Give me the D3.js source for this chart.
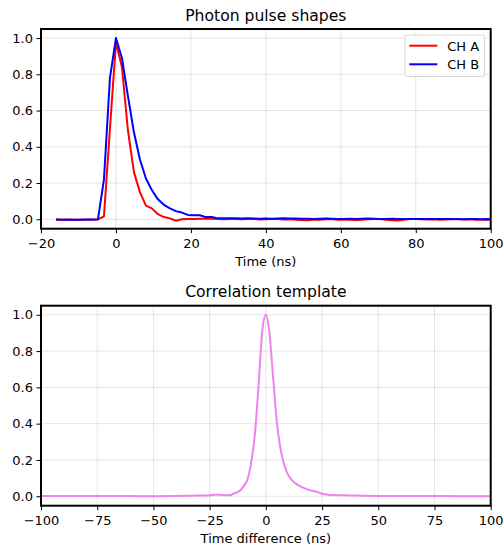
<!DOCTYPE html>
<html>
<head>
<meta charset="utf-8">
<script src="https://cdn.jsdelivr.net/npm/d3@7"></script>
<style>
  body { margin: 0; background: #fff; }
  svg { display: block; font-family: 'DejaVu Sans', sans-serif; }
  .grid line { stroke: #000; stroke-opacity: 0.1; stroke-width: 1; }
  .axis path { stroke: #000; stroke-width: 2; }
  .axis line { stroke: #000; stroke-width: 1; }
  .axis text { font-size: 13px; fill: #000; font-family: 'DejaVu Sans', sans-serif; }
</style>
</head>
<body>
<div id="chart"></div>
<script>
// pulse samples: start time and step (ns)
const pulseStart = -16;
const pulseStep = 1.6;

const chA = [
  0.000, -0.002, -0.001, -0.003, -0.002, -0.003, -0.002, -0.001, 0.016, 0.50,
  0.975, 0.84, 0.49, 0.26, 0.15, 0.075, 0.060, 0.028, 0.012, 0.005,
  -0.008, 0.000, 0.001, 0.002, 0.003, 0.004, 0.003, 0.001, 0.000, 0.002,
  0.001, 0.000, 0.002, 0.001, -0.001, 0.000, 0.002, 0.001, -0.001, 0.000,
  -0.003, -0.004, -0.005, -0.003, -0.002, 0.000, 0.001, -0.002, -0.003, -0.002,
  -0.004, -0.002, 0.000, 0.002, 0.001, -0.002, -0.005, -0.007, -0.003, 0.001,
  0.002, 0.000, -0.001, 0.000, -0.002, -0.001, 0.000, 0.001, -0.001, 0.000,
  -0.002, -0.003, -0.002, -0.001
];

const chB = [
  -0.002, -0.003, -0.003, -0.002, -0.002, -0.001, -0.001, 0.000, 0.22, 0.78,
  1.0, 0.89, 0.68, 0.48, 0.33, 0.225, 0.16, 0.11, 0.08, 0.06,
  0.045, 0.037, 0.024, 0.022, 0.022, 0.012, 0.012, 0.005, 0.005, 0.006,
  0.005, 0.004, 0.005, 0.004, 0.003, 0.004, 0.003, 0.004, 0.005, 0.004,
  0.004, 0.003, 0.003, 0.002, 0.003, 0.004, 0.003, 0.002, 0.002, 0.003,
  0.002, 0.003, 0.004, 0.003, 0.002, 0.002, 0.003, 0.002, 0.001, 0.002,
  0.002, 0.001, 0.002, 0.001, 0.002, 0.001, 0.002, 0.001, 0.000, 0.001,
  0.001, 0.000, 0.001, 0.000
];

const corrTimes = [
  -100, -90, -80, -70, -60, -50, -40, -30, -25, -22.4, -20.8, -19.2, -17.6, -16,
  -14.4, -12.8, -11.2, -9.6, -8.0, -6.4, -4.8, -3.2, -1.6, 0,
  1.6, 3.2, 4.8, 6.4, 8.0, 9.6, 11.2, 12.8, 14.4, 16, 17.6, 19.2, 20.8, 22.4,
  24, 25.6, 27.2, 30, 35, 40, 50, 60, 70, 80, 90, 100
];
const corrValues = [
  0.001, 0.001, 0.002, 0.002, 0.001, 0.000, 0.002, 0.004, 0.006, 0.009, 0.009, 0.007, 0.005, 0.006,
  0.014, 0.022, 0.035, 0.060, 0.100, 0.195, 0.350, 0.620, 0.910, 1.0,
  0.90, 0.66, 0.42, 0.27, 0.18, 0.125, 0.095, 0.075, 0.061, 0.050, 0.042, 0.035, 0.030, 0.025,
  0.018, 0.012, 0.009, 0.007, 0.005, 0.004, 0.002, 0.001, 0.001, 0.001, 0.000, 0.000
];

const pulseTicks = [-20, 0, 20, 40, 60, 80, 100];
const corrTicks = [-100, -75, -50, -25, 0, 25, 50, 75, 100];
const yTicks = [0, 0.2, 0.4, 0.6, 0.8, 1.0];

const width = 504;
const height = 547;

const svg = d3.select('#chart')
  .append('svg')
    .attr('width', width)
    .attr('height', height);

const plotLeft = 41;
const plotRight = 490.7;

function Panel(opts) {
  const x = d3.scaleLinear().domain(opts.xDomain).range([plotLeft, plotRight]);
  const y = d3.scaleLinear().domain([-0.052, 1.05]).range([opts.bottom, opts.top]);

  const g = svg.append('g');

  const clipId = 'clip-' + opts.name;
  g.append('clipPath')
      .attr('id', clipId)
    .append('rect')
      .attr('x', plotLeft)
      .attr('y', opts.top)
      .attr('width', plotRight - plotLeft)
      .attr('height', opts.bottom - opts.top);

  // grid
  const grid = g.append('g').attr('class', 'grid');
  grid.selectAll('line.gx')
    .data(opts.xTicks)
    .enter().append('line')
      .attr('class', 'gx')
      .attr('x1', (d) => x(d)).attr('x2', (d) => x(d))
      .attr('y1', opts.top).attr('y2', opts.bottom);
  grid.selectAll('line.gy')
    .data(yTicks)
    .enter().append('line')
      .attr('class', 'gy')
      .attr('x1', plotLeft).attr('x2', plotRight)
      .attr('y1', (d) => y(d)).attr('y2', (d) => y(d));

  const lines = g.append('g').attr('clip-path', 'url(#' + clipId + ')');
  opts.series.forEach((s) => {
    const line = d3.line()
      .curve(s.smooth ? d3.curveMonotoneX : d3.curveLinear)
      .x((d) => x(d[0]))
      .y((d) => y(d[1]));
    lines.append('path')
      .datum(s.points)
      .attr('fill', 'none')
      .attr('stroke', s.color)
      .attr('stroke-width', 2)
      .attr('stroke-linejoin', 'round')
      .attr('d', line);
  });

  // axes
  g.append('g')
    .attr('class', 'axis')
    .attr('transform', 'translate(0,' + opts.bottom + ')')
    .call(d3.axisBottom(x).tickValues(opts.xTicks).tickSize(4.5).tickPadding(6).tickSizeOuter(0))
    .call((a) => a.select('.domain').remove());

  g.append('g')
    .attr('class', 'axis')
    .attr('transform', 'translate(' + plotLeft + ',0)')
    .call(d3.axisLeft(y).tickValues(yTicks).tickFormat(d3.format('.1f')).tickSize(4.5).tickPadding(3.5).tickSizeOuter(0))
    .call((a) => a.select('.domain').remove());

  g.append('rect')
    .attr('x', plotLeft)
    .attr('y', opts.top)
    .attr('width', plotRight - plotLeft)
    .attr('height', opts.bottom - opts.top)
    .attr('fill', 'none')
    .attr('stroke', '#000')
    .attr('stroke-width', 2);

  g.append('text')
    .attr('x', (plotLeft + plotRight) / 2)
    .attr('y', opts.top - 8.5)
    .attr('text-anchor', 'middle')
    .style('font-size', '15.6px')
    .text(opts.title);

  g.append('text')
    .attr('x', (plotLeft + plotRight) / 2)
    .attr('y', opts.bottom + 37.5)
    .attr('text-anchor', 'middle')
    .style('font-size', '13px')
    .text(opts.xLabel);

  return g;
}

const pulseA = chA.map((v, i) => [pulseStart + pulseStep * i, v]);
const pulseB = chB.map((v, i) => [pulseStart + pulseStep * i, v]);
const corrPoints = corrTimes.map((t, i) => [t, corrValues[i]]);

Panel({
  name: 'pulse',
  top: 29,
  bottom: 228.7,
  xDomain: [-20, 100],
  xTicks: pulseTicks,
  title: 'Photon pulse shapes',
  xLabel: 'Time (ns)',
  series: [
    { points: pulseA, color: '#ff0000' },
    { points: pulseB, color: '#0000ff' }
  ]
});

Panel({
  name: 'corr',
  top: 305.7,
  bottom: 505.7,
  xDomain: [-100, 100],
  xTicks: corrTicks,
  title: 'Correlation template',
  xLabel: 'Time difference (ns)',
  series: [
    { points: corrPoints, color: '#ee82ee', smooth: true }
  ]
});

// legend
const legendItems = [
  { name: 'CH A', color: '#ff0000' },
  { name: 'CH B', color: '#0000ff' }
];
const legend = svg.append('g')
  .attr('transform', 'translate(405,35)');
legend.append('rect')
  .attr('width', 79.5)
  .attr('height', 41.5)
  .attr('rx', 2.5)
  .attr('fill', '#fff')
  .attr('fill-opacity', 0.8)
  .attr('stroke', '#d6d6d6');
const legendRow = legend.selectAll('g.row')
  .data(legendItems)
  .enter().append('g')
    .attr('class', 'row')
    .attr('transform', (d, i) => 'translate(0,' + (10.7 + i * 18.6) + ')');
legendRow.append('line')
  .attr('x1', 4.3).attr('x2', 32.3)
  .attr('stroke', (d) => d.color)
  .attr('stroke-width', 2);
legendRow.append('text')
  .attr('x', 42.3)
  .attr('y', 4.8)
  .style('font-size', '13px')
  .text((d) => d.name);
</script>
</body>
</html>
